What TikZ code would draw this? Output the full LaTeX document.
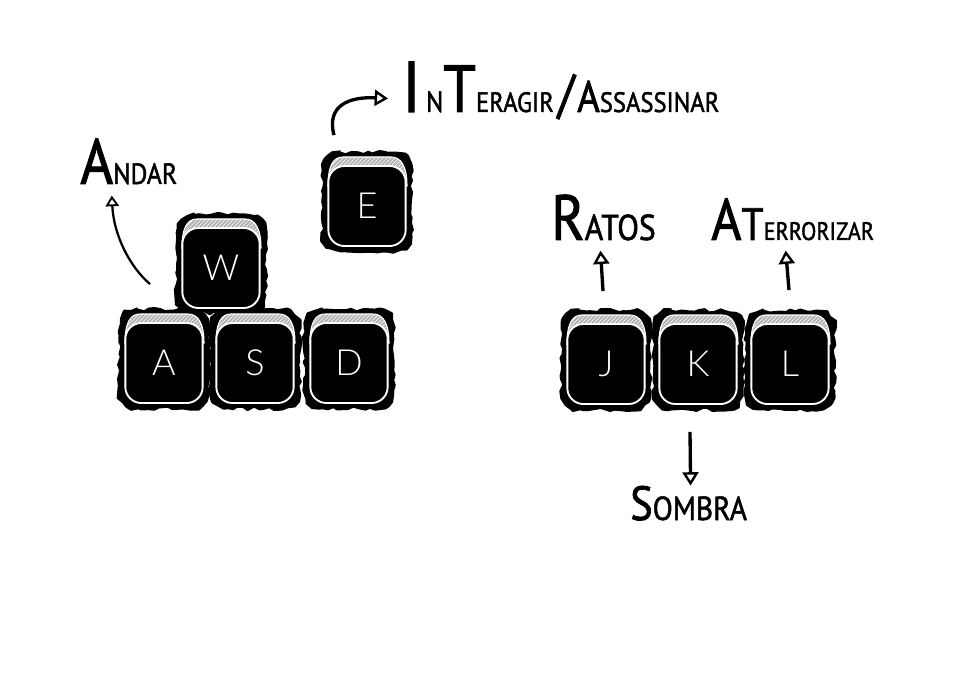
\documentclass[tikz,border=0pt]{standalone}
\usepackage{fontspec}
\usetikzlibrary{arrows.meta,decorations.pathmorphing,patterns}
\newfontfamily\handfont[FakeStretch=0.88,FakeBold=1.5]{PT Sans}
\newfontfamily\capfont{Lato Light}
\newcommand{\hand}[2]{{\handfont\fontsize{#1}{#1}\selectfont #2}}
\begin{document}
\begin{tikzpicture}[x=0.75pt,y=-0.75pt,
  keyblob/.style={inner sep=0pt,minimum width=68pt,minimum height=76pt},
  keyrough/.style={draw=black,fill=black,line width=2pt,line join=round,
   decorate,decoration={random steps,segment length=4pt,amplitude=1.3pt}},
  keyface/.style={draw=white,fill=black,line width=1.4pt,rounded corners=12pt,
   minimum width=58pt,minimum height=60pt,inner sep=0pt,text=white,
   font=\capfont\fontsize{27}{27}\selectfont},
  keyband/.style={draw=white,line width=0.8pt,preaction={fill=gray!60},
   pattern=north east lines,pattern color=white},
  label/.style={inner sep=0pt,anchor=base west,text=black},
  pointer/.style={line width=2.5pt,-{Triangle[open,width=12pt,length=10pt,line width=1.8pt]}},
  thinpointer/.style={line width=1.7pt,-{Triangle[open,width=10pt,length=8pt,line width=1.4pt]}}]
 \useasboundingbox (0,0) rectangle (960,677);
 \pgfmathsetseed{7}
 % black outlines first
 \foreach \keyname/\keyx/\keyy in {W/221/268,A/164/363,S/255/363,D/349/363,E/367/206,J/606/364,K/698/364,L/790/364}{
  \node[keyblob] (key\keyname) at (\keyx,\keyy-4) {};
  \path[keyrough] (\keyx-26,\keyy-53) -- (\keyx+26,\keyy-53)
   .. controls (\keyx+38,\keyy-53) and (\keyx+44,\keyy-47) .. (\keyx+44,\keyy-35)
   -- (\keyx+44,\keyy+27) .. controls (\keyx+44,\keyy+39) and (\keyx+38,\keyy+45) .. (\keyx+26,\keyy+45)
   -- (\keyx-26,\keyy+45) .. controls (\keyx-38,\keyy+45) and (\keyx-44,\keyy+39) .. (\keyx-44,\keyy+27)
   -- (\keyx-44,\keyy-35) .. controls (\keyx-44,\keyy-47) and (\keyx-38,\keyy-53) .. (\keyx-26,\keyy-53) -- cycle;
 }
 % then the caps
 \foreach \keyname/\keyx/\keyy in {W/221/268,A/164/363,S/255/363,D/349/363,E/367/206,J/606/364,K/698/364,L/790/364}{
  \draw[keyband] (\keyx-39,\keyy-20) .. controls (\keyx-39,\keyy-40) and (\keyx-34,\keyy-49) .. (\keyx-24,\keyy-49)
   -- (\keyx+24,\keyy-49) .. controls (\keyx+34,\keyy-49) and (\keyx+40,\keyy-40) .. (\keyx+40,\keyy-20) -- cycle;
  \node[keyface] (face\keyname) at (\keyx,\keyy) {\keyname};
 }
 % labels
 \node[label] (andar) at (80,184) {\hand{48}{A}\hand{22}{NDAR}};
 \node[label] (interagir) at (402,112) {\hand{54}{I}\kern4pt\hand{22}{N}\hand{50}{T}\hand{21}{ERAGIR}\kern3pt\hand{40}{/}\kern2pt\hand{33}{A}\hand{21}{SSASSINAR}};
 \node[label] (ratos) at (551,240) {\hand{48}{R}\hand{27}{ATOS}};
 \node[label] (aterrorizar) at (711,240) {\hand{44}{A}\hand{34}{T}\hand{19}{ERRORIZAR}};
 \node[label] (sombra) at (630,520) {\hand{36}{S}\hand{25}{OMBRA}};
 % arrows
 \draw[thinpointer] ([shift={(-14,-24)}]keyA.north) .. controls +(-20,-17) and +(2,40) .. ([shift={(-17,11)}]andar.south);
 \draw[pointer] ([shift={(-33,-16)}]keyE.north) .. controls +(-8,-30) and +(-38,-2) .. ([shift={(-14,8)}]interagir.west);
 \draw[pointer] ([shift={(-3,-18)}]keyJ.north) -- ([shift={(-3,10)}]ratos.south);
 \draw[pointer] ([shift={(-1,-19)}]keyL.north) -- ([shift={(-7,10)}]aterrorizar.south);
 \draw[pointer] ([shift={(-8,21)}]keyK.south) -- ([shift={(2,0)}]sombra.north);
\end{tikzpicture}
\end{document}
